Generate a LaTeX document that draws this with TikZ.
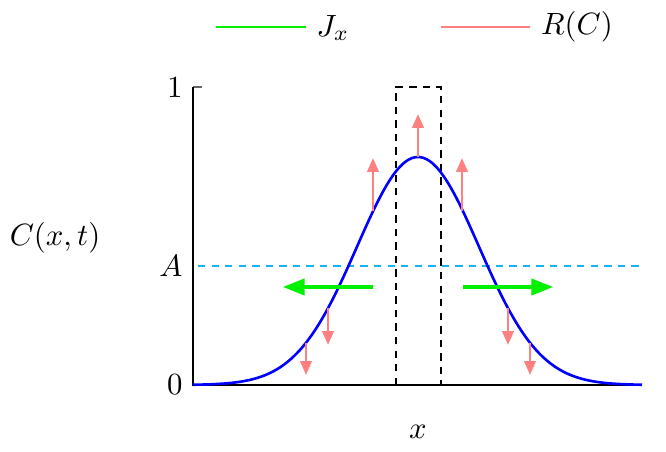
\documentclass[tikz,border=0pt]{standalone}
\usetikzlibrary{arrows.meta}
\definecolor{fluxgreen}{RGB}{0,240,0}
\definecolor{reacpink}{RGB}{255,128,128}
\definecolor{levelcyan}{RGB}{20,180,240}
\begin{document}
\begin{tikzpicture}[x=0.325pt,y=-0.325pt,
  axisline/.style={line width=0.7pt,black},
  curve/.style={line width=0.85pt,blue},
  boxline/.style={line width=0.8pt,black,dash pattern=on 2.4pt off 2pt},
  levelline/.style={line width=0.7pt,levelcyan,dash pattern=on 2.4pt off 2pt},
  flux/.style={line width=1pt,fluxgreen,-{Triangle[length=7pt,width=5.3pt]}},
  reac/.style={line width=0.85pt,reacpink,-{Triangle[length=4.5pt,width=3.7pt]}},
  lbl/.style={inner sep=0pt}]
\useasboundingbox (0,0) rectangle (666,452);
% legend
\draw[line width=0.8pt,fluxgreen] (216,27) -- (306,27);
\node[lbl] (legJ) at (333,28) {$J_x$};
\draw[line width=0.8pt,reacpink] (441,27) -- (530,27);
\node[lbl] (legR) at (577,27) {$R(C)$};
% axes
\coordinate (o) at (193,385);
\coordinate (ytop) at (193,87);
\coordinate (xend) at (642,385);
\draw[line width=0.5pt,black!60] (ytop) -- (202,87);
\draw[axisline] (ytop) -- (o) -- (xend);
\node[lbl,anchor=east] (t1) at (183,88) {$1$};
\node[lbl,anchor=east] (tA) at (183,266) {$A$};
\node[lbl,anchor=east] (t0) at (183,385) {$0$};
\node[lbl] (ylab) at (55,238) {$C(x,t)$};
\node[lbl] (xlab) at (418,432) {$x$};
% level A
\coordinate (a1) at (198,266);
\coordinate (a2) at (642,266);
\draw[levelline] (a1) -- (a2);
% dashed box
\coordinate (b1) at (396,385);
\coordinate (b2) at (396,87);
\coordinate (b3) at (441,87);
\coordinate (b4) at (441,385);
\draw[boxline] (b1) -- (b2) -- (b3) -- (b4);
% gaussian
\draw[curve] plot[domain=193:642,samples=120,smooth] (\x,{385-228*exp(-((\x-418)/61)^2/2)});
% reaction arrows up
\coordinate (p0) at (418,157);
\coordinate (p0t) at (418,114);
\coordinate (pl) at (373,211);
\coordinate (plt) at (373,158);
\coordinate (pr) at (462,211);
\coordinate (prt) at (462,158);
\draw[reac] (p0) -- (p0t);
\draw[reac] (pl) -- (plt);
\draw[reac] (pr) -- (prt);
% reaction arrows down
\coordinate (d1) at (328,308);
\coordinate (d1t) at (328,345);
\coordinate (d2) at (306,343);
\coordinate (d2t) at (306,375);
\coordinate (d3) at (508,308);
\coordinate (d3t) at (508,345);
\coordinate (d4) at (530,343);
\coordinate (d4t) at (530,375);
\draw[reac] (d1) -- (d1t);
\draw[reac] (d2) -- (d2t);
\draw[reac] (d3) -- (d3t);
\draw[reac] (d4) -- (d4t);
% flux arrows
\coordinate (fl) at (373,287);
\coordinate (flt) at (283,287);
\coordinate (fr) at (463,287);
\coordinate (frt) at (553,287);
\draw[flux] (fl) -- (flt);
\draw[flux] (fr) -- (frt);
\end{tikzpicture}
\end{document}
